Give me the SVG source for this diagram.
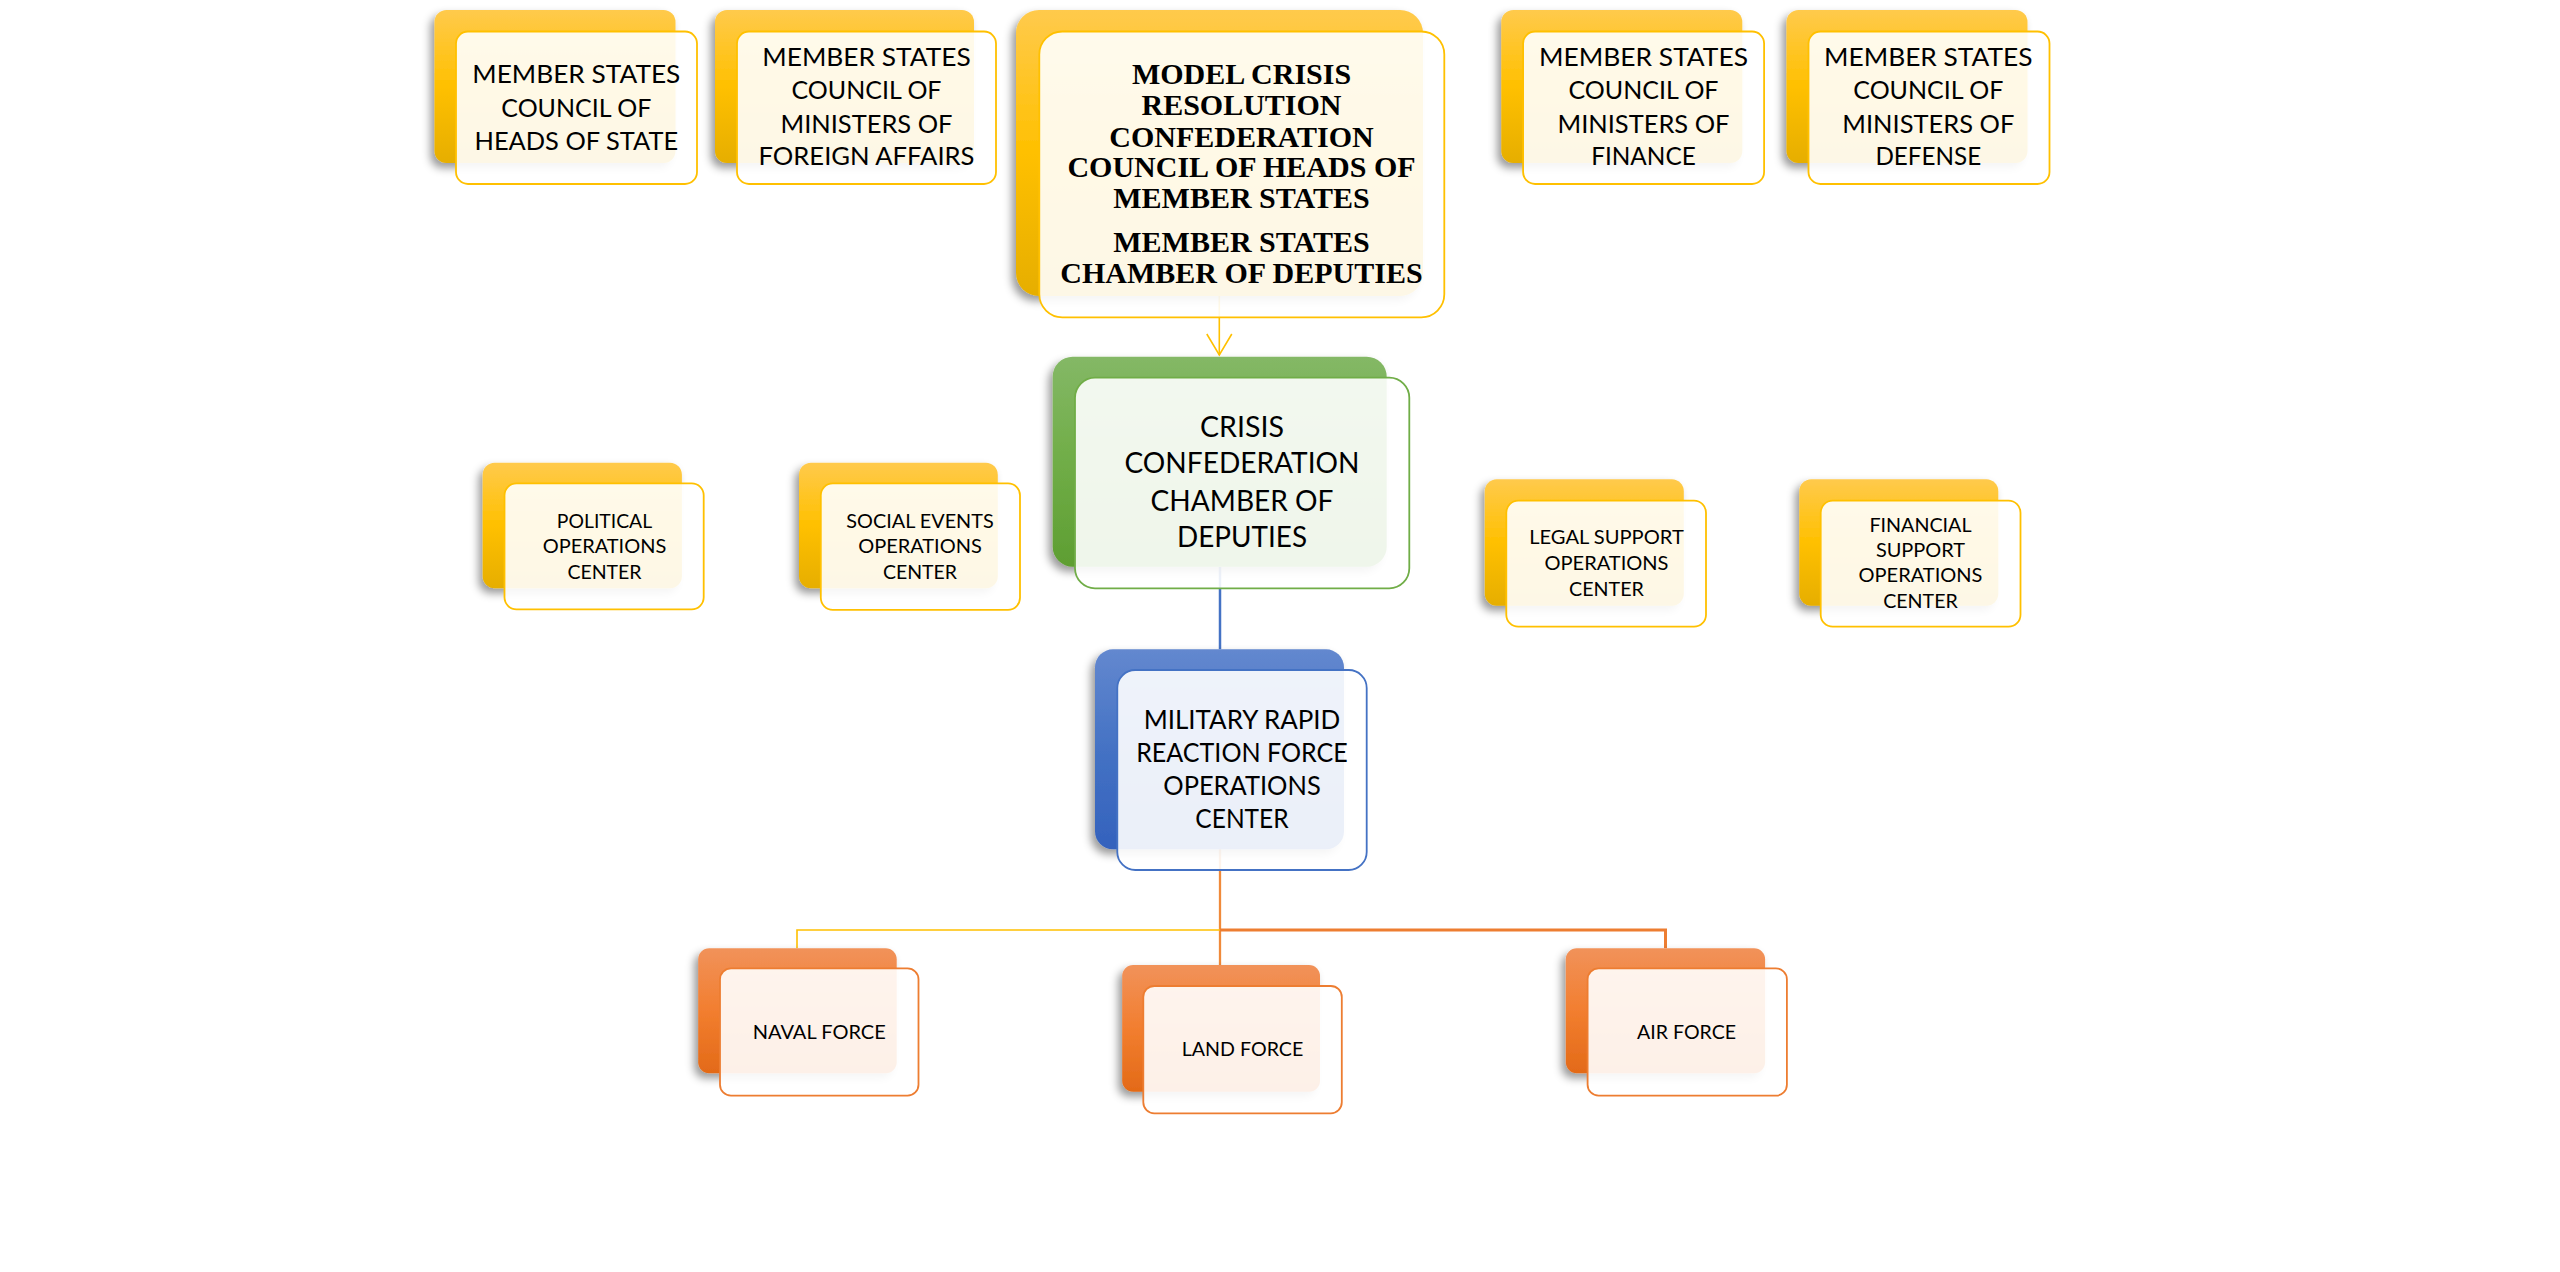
<svg xmlns="http://www.w3.org/2000/svg" width="2560" height="1272" viewBox="0 0 2560 1272">
<defs>
<linearGradient id="gY" x1="0" y1="0" x2="0" y2="1"><stop offset="0" stop-color="#FFCA4C"/><stop offset="0.5" stop-color="#FFC000"/><stop offset="1" stop-color="#E6AE00"/></linearGradient>
<linearGradient id="gG" x1="0" y1="0" x2="0" y2="1"><stop offset="0" stop-color="#84B866"/><stop offset="0.5" stop-color="#70AD47"/><stop offset="1" stop-color="#5E9E32"/></linearGradient>
<linearGradient id="gB" x1="0" y1="0" x2="0" y2="1"><stop offset="0" stop-color="#6388CF"/><stop offset="0.5" stop-color="#4472C4"/><stop offset="1" stop-color="#3462BD"/></linearGradient>
<linearGradient id="gO" x1="0" y1="0" x2="0" y2="1"><stop offset="0" stop-color="#F1925A"/><stop offset="0.5" stop-color="#F27E2F"/><stop offset="1" stop-color="#E36A18"/></linearGradient>
<filter id="sh" x="-20%" y="-20%" width="140%" height="150%"><feDropShadow dx="-4" dy="5" stdDeviation="4" flood-color="#000" flood-opacity="0.4"/></filter>
<marker id="arr" markerUnits="userSpaceOnUse" viewBox="-1 -1 24 28" markerWidth="24" markerHeight="28" refX="21" refY="12.5" orient="auto" overflow="visible"><path d="M0,0 L21,12.5 L0,25" fill="none" stroke="#FFC000" stroke-width="1.6"/></marker>
</defs>
<style>
.bY{fill:url(#gY);filter:url(#sh)}
.bG{fill:url(#gG);filter:url(#sh)}
.bB{fill:url(#gB);filter:url(#sh)}
.bO{fill:url(#gO);filter:url(#sh)}
.f{fill:#fff;fill-opacity:0.9;stroke-width:1.8}
.fY{stroke:#FFC000}
.fG{stroke:#70AD47}
.fB{stroke:#4472C4}
.fO{stroke:#ED7D31}
.s{font-family:Lato,"Open Sans","Liberation Sans",sans-serif;fill:#000;text-anchor:middle}
.s1{font-size:25.5px}
.s2{font-size:28px}
.s3{font-size:26.5px}
.s4{font-size:20px}
.sr{font-family:"Liberation Serif","Times New Roman",serif;font-weight:bold;font-size:30px;text-anchor:middle;fill:#000}
.c{fill:none}
</style>
<rect x="0" y="0" width="2560" height="1272" fill="#fff"/>

<g id="connectors">
<path class="c" d="M1219.3,296 V355" stroke="#FFC000" stroke-width="1.6" marker-end="url(#arr)"/>
<path class="c" d="M1220,567 V649.3" stroke="#4472C4" stroke-width="2.5"/>
<path class="c" d="M1220,849 V965" stroke="#F08A3A" stroke-width="2.3"/>
<path class="c" d="M1220,930 H797 V948.3" stroke="#FFC000" stroke-width="1.6"/>
<path class="c" d="M1220,930 H1665.5 V948.3" stroke="#ED7D31" stroke-width="3"/>
</g>

<g id="heads-of-state">
<rect class="bY" x="434.5" y="10" width="241" height="153" rx="12"/>
<rect class="f fY" x="456" y="31.5" width="241" height="152.5" rx="12"/>
<text class="s s1" x="576.3" y="83.3" textLength="208" lengthAdjust="spacingAndGlyphs">MEMBER STATES</text>
<text class="s s1" x="576.3" y="116.7" textLength="150" lengthAdjust="spacingAndGlyphs">COUNCIL OF</text>
<text class="s s1" x="576.3" y="150" textLength="203.6" lengthAdjust="spacingAndGlyphs">HEADS OF STATE</text>
</g>

<g id="foreign-affairs">
<rect class="bY" x="715" y="10" width="259" height="153" rx="12"/>
<rect class="f fY" x="737" y="31.5" width="259" height="152.5" rx="12"/>
<text class="s s1" x="866.5" y="66" textLength="208.5" lengthAdjust="spacingAndGlyphs">MEMBER STATES</text>
<text class="s s1" x="866.5" y="99.3" textLength="150" lengthAdjust="spacingAndGlyphs">COUNCIL OF</text>
<text class="s s1" x="866.5" y="132.7" textLength="172" lengthAdjust="spacingAndGlyphs">MINISTERS OF</text>
<text class="s s1" x="866.5" y="165" textLength="216" lengthAdjust="spacingAndGlyphs">FOREIGN AFFAIRS</text>
</g>

<g id="confederation-council">
<rect class="bY" x="1016" y="10" width="407" height="286" rx="23"/>
<rect class="f fY" x="1039.3" y="31.5" width="405" height="285.8" rx="23"/>
<text class="sr" x="1241.5" y="84">MODEL CRISIS</text>
<text class="sr" x="1241.5" y="115">RESOLUTION</text>
<text class="sr" x="1241.5" y="146.7">CONFEDERATION</text>
<text class="sr" x="1241.5" y="177.3">COUNCIL OF HEADS OF</text>
<text class="sr" x="1241.5" y="208.3">MEMBER STATES</text>
<text class="sr" x="1241.5" y="252.3">MEMBER STATES</text>
<text class="sr" x="1241.5" y="283.3">CHAMBER OF DEPUTIES</text>
</g>

<g id="finance">
<rect class="bY" x="1501.3" y="10" width="241" height="153" rx="12"/>
<rect class="f fY" x="1523.1" y="31.5" width="241" height="152.5" rx="12"/>
<text class="s s1" x="1643.5" y="66" textLength="209" lengthAdjust="spacingAndGlyphs">MEMBER STATES</text>
<text class="s s1" x="1643.5" y="99.3" textLength="150" lengthAdjust="spacingAndGlyphs">COUNCIL OF</text>
<text class="s s1" x="1643.5" y="132.7" textLength="172" lengthAdjust="spacingAndGlyphs">MINISTERS OF</text>
<text class="s s1" x="1643.5" y="165" textLength="104.6" lengthAdjust="spacingAndGlyphs">FINANCE</text>
</g>

<g id="defense">
<rect class="bY" x="1786.5" y="10" width="241" height="153" rx="12"/>
<rect class="f fY" x="1808.5" y="31.5" width="241" height="152.5" rx="12"/>
<text class="s s1" x="1928.3" y="66" textLength="208.5" lengthAdjust="spacingAndGlyphs">MEMBER STATES</text>
<text class="s s1" x="1928.3" y="99.3" textLength="150" lengthAdjust="spacingAndGlyphs">COUNCIL OF</text>
<text class="s s1" x="1928.3" y="132.7" textLength="172" lengthAdjust="spacingAndGlyphs">MINISTERS OF</text>
<text class="s s1" x="1928.3" y="165" textLength="105.7" lengthAdjust="spacingAndGlyphs">DEFENSE</text>
</g>

<g id="crisis-chamber">
<rect class="bG" x="1052.7" y="356.7" width="334" height="210" rx="20"/>
<rect class="f fG" x="1075" y="377.7" width="334.3" height="210.6" rx="20"/>
<text class="s s2" x="1242" y="436.7" textLength="84" lengthAdjust="spacingAndGlyphs">CRISIS</text>
<text class="s s2" x="1242" y="472.7" textLength="235" lengthAdjust="spacingAndGlyphs">CONFEDERATION</text>
<text class="s s2" x="1242" y="510.7" textLength="183" lengthAdjust="spacingAndGlyphs">CHAMBER OF</text>
<text class="s s2" x="1242" y="546.7" textLength="130" lengthAdjust="spacingAndGlyphs">DEPUTIES</text>
</g>

<g id="political">
<rect class="bY" x="482.7" y="462.7" width="199.2" height="125.6" rx="12"/>
<rect class="f fY" x="504.5" y="483.3" width="199.2" height="126" rx="12"/>
<text class="s s4" x="604.5" y="527.7" textLength="95.3" lengthAdjust="spacingAndGlyphs">POLITICAL</text>
<text class="s s4" x="604.5" y="553.3" textLength="123.6" lengthAdjust="spacingAndGlyphs">OPERATIONS</text>
<text class="s s4" x="604.5" y="579" textLength="74.2" lengthAdjust="spacingAndGlyphs">CENTER</text>
</g>

<g id="social-events">
<rect class="bY" x="799" y="462.7" width="198.8" height="125.6" rx="12"/>
<rect class="f fY" x="820.8" y="483.3" width="199.2" height="126.5" rx="12"/>
<text class="s s4" x="920" y="527.7" textLength="147.3" lengthAdjust="spacingAndGlyphs">SOCIAL EVENTS</text>
<text class="s s4" x="920" y="553.3" textLength="123.6" lengthAdjust="spacingAndGlyphs">OPERATIONS</text>
<text class="s s4" x="920" y="579" textLength="74.1" lengthAdjust="spacingAndGlyphs">CENTER</text>
</g>

<g id="legal-support">
<rect class="bY" x="1484.8" y="479.3" width="199" height="126.4" rx="12"/>
<rect class="f fY" x="1506.3" y="500.7" width="199.7" height="126" rx="12"/>
<text class="s s4" x="1606.5" y="544.3" textLength="154.6" lengthAdjust="spacingAndGlyphs">LEGAL SUPPORT</text>
<text class="s s4" x="1606.5" y="570" textLength="124" lengthAdjust="spacingAndGlyphs">OPERATIONS</text>
<text class="s s4" x="1606.5" y="595.7" textLength="74.8" lengthAdjust="spacingAndGlyphs">CENTER</text>
</g>

<g id="financial-support">
<rect class="bY" x="1799.3" y="479.3" width="199" height="126.4" rx="12"/>
<rect class="f fY" x="1820.7" y="500.7" width="199.8" height="126" rx="12"/>
<text class="s s4" x="1920.5" y="531.7" textLength="102.1" lengthAdjust="spacingAndGlyphs">FINANCIAL</text>
<text class="s s4" x="1920.5" y="556.7" textLength="89.2" lengthAdjust="spacingAndGlyphs">SUPPORT</text>
<text class="s s4" x="1920.5" y="582.3" textLength="123.9" lengthAdjust="spacingAndGlyphs">OPERATIONS</text>
<text class="s s4" x="1920.5" y="607.7" textLength="74.7" lengthAdjust="spacingAndGlyphs">CENTER</text>
</g>

<g id="rapid-reaction">
<rect class="bB" x="1095" y="649.3" width="249" height="200" rx="18"/>
<rect class="f fB" x="1117.3" y="670" width="249.4" height="200" rx="18"/>
<text class="s s3" x="1242" y="729" textLength="196.7" lengthAdjust="spacingAndGlyphs">MILITARY RAPID</text>
<text class="s s3" x="1242" y="762.3" textLength="211.7" lengthAdjust="spacingAndGlyphs">REACTION FORCE</text>
<text class="s s3" x="1242" y="794.8" textLength="157.4" lengthAdjust="spacingAndGlyphs">OPERATIONS</text>
<text class="s s3" x="1242" y="828.3" textLength="93.3" lengthAdjust="spacingAndGlyphs">CENTER</text>
</g>

<g id="naval-force">
<rect class="bO" x="698.2" y="948.3" width="198.5" height="125" rx="11"/>
<rect class="f fO" x="720" y="968.3" width="198.5" height="127.4" rx="11"/>
<text class="s s4" x="819.2" y="1039.3" textLength="133" lengthAdjust="spacingAndGlyphs">NAVAL FORCE</text>
</g>

<g id="land-force">
<rect class="bO" x="1122.2" y="965" width="197.8" height="126.7" rx="11"/>
<rect class="f fO" x="1143.3" y="986" width="198.5" height="127.3" rx="11"/>
<text class="s s4" x="1242.5" y="1056" textLength="121.5" lengthAdjust="spacingAndGlyphs">LAND FORCE</text>
</g>

<g id="air-force">
<rect class="bO" x="1565.8" y="948.3" width="199.3" height="125" rx="11"/>
<rect class="f fO" x="1587.6" y="968.3" width="199.3" height="127.4" rx="11"/>
<text class="s s4" x="1686.5" y="1039.3" textLength="99" lengthAdjust="spacingAndGlyphs">AIR FORCE</text>
</g>
</svg>
